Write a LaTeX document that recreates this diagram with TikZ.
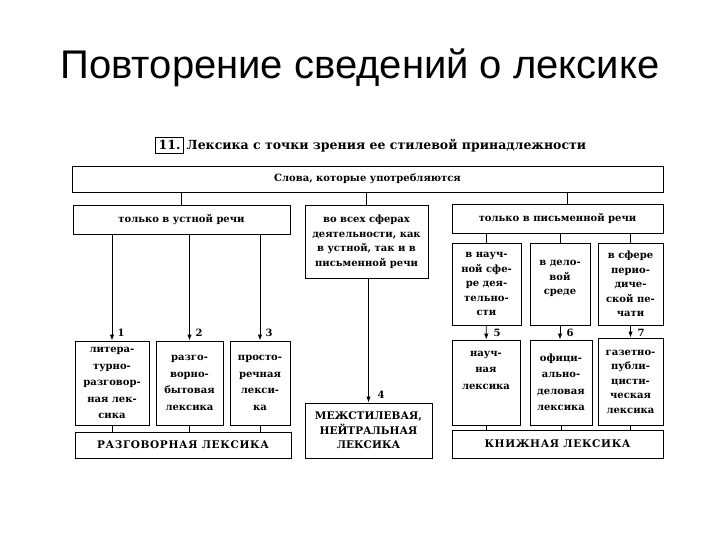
\documentclass[tikz,border=0pt]{standalone}
\usepackage{fontspec}
\setmainfont{DejaVu Serif}
\newfontfamily\titlefont{Liberation Sans}
\newfontfamily\capsfont[LetterSpace=6]{DejaVu Serif}
\usetikzlibrary{arrows.meta}

\begin{document}
\begin{tikzpicture}[x=1pt,y=-1pt]
	\tikzstyle{every node}+=[inner sep=0pt]
	\tikzstyle{box}=[draw=black, line width=0.9pt, align=center, font=\fontsize{10}{14.5}\selectfont\bfseries]
	\tikzstyle{tall}=[font=\fontsize{10}{16.5}\selectfont\bfseries]
	\tikzstyle{caps}=[font=\fontsize{10.5}{14.5}\selectfont\bfseries]
	\tikzstyle{wide}=[font=\capsfont\fontsize{10.5}{14.5}\selectfont\bfseries]
	\tikzstyle{link}=[black, line width=0.9pt]
	\tikzstyle{arr}=[link, -{Latex[length=6pt,width=4.5pt]}]
	\tikzstyle{num}=[font=\fontsize{10}{10}\selectfont\bfseries]
	\useasboundingbox (0,0) rectangle (720,540);
	% headings
	\node (title) at (360,68) {\titlefont\fontsize{40}{40}\selectfont Повторение сведений о лексике};
	\node [font=\fontsize{12.5}{14}\selectfont\bfseries, anchor=west] (sub) at (155,145) {\fbox{11.}\hspace{3pt}Лексика с точки зрения ее стилевой принадлежности};
	% first and second rows
	\node [box, minimum width=591, minimum height=26] (top) at (367.5,179) {Слова, которые употребляются};
	\node [box, minimum width=217, minimum height=29] (oral) at (181.5,219.5) {только в устной речи};
	\node [box, minimum width=123, minimum height=73] (all) at (366.5,241.5) {во всех сферах\\деятельности, как\\в устной, так и в\\письменной речи};
	\node [box, minimum width=211, minimum height=29] (written) at (557.5,218.5) {только в письменной речи};
	\node [box, minimum width=69, minimum height=82] (sci) at (486.5,284) {в науч-\\ной сфе-\\ре дея-\\тельно-\\сти};
	\node [box, minimum width=60, minimum height=82] (bus) at (560,284) {в дело-\\вой\\среде\\[-2pt]};
	\node [box, minimum width=65, minimum height=82] (press) at (630.5,284) {в сфере\\перио-\\диче-\\ской пе-\\чати};
	% kinds of words
	\node [box, tall, minimum width=74, minimum height=84] (lit) at (112,383) {литера-\\турно-\\разговор-\\ная лек-\\сика};
	\node [box, tall, minimum width=67, minimum height=84] (razg) at (189.5,383) {разго-\\ворно-\\бытовая\\лексика};
	\node [box, tall, minimum width=60, minimum height=84] (prost) at (260,383) {просто-\\речная\\лекси-\\ка};
	\node [box, tall, minimum width=68, minimum height=85] (nauch) at (486,382.5) {науч-\\ная\\лексика\\[8.5pt]};
	\node [box, tall, minimum width=62, minimum height=85] (ofic) at (561,382.5) {офици-\\ально-\\деловая\\лексика};
	\node [box, minimum width=65, minimum height=87] (gaz) at (630.5,381.5) {газетно-\\публи-\\цисти-\\ческая\\лексика};
	% groups
	\node [box, wide, minimum width=216, minimum height=26] (razgL) at (183,445) {РАЗГОВОРНАЯ ЛЕКСИКА};
	\node [box, caps, minimum width=127, minimum height=55] (neutral) at (368.5,430.5) {МЕЖСТИЛЕВАЯ,\\НЕЙТРАЛЬНАЯ\\ЛЕКСИКА};
	\node [box, wide, minimum width=211, minimum height=28] (knizh) at (557.5,444) {КНИЖНАЯ ЛЕКСИКА};
	% connectors
	\draw [link] (top.south -| oral) -- (oral);
	\draw [link] (top.south -| all) -- (all);
	\draw [link] ([xshift=10]written.north) -- ([xshift=10]written.north |- top.south);
	\draw [arr] (oral.south -| lit) -- (lit);
	\draw [arr] (oral.south -| razg) -- (razg);
	\draw [arr] (oral.south -| prost) -- (prost);
	\draw [arr] (all.south -| neutral) -- (neutral);
	\draw [link] (written.south -| sci) -- (sci);
	\draw [link] (written.south -| bus) -- (bus);
	\draw [link] (written.south -| press) -- (press);
	\draw [arr] (sci) -- (nauch);
	\draw [arr] (bus) -- (bus |- nauch.north);
	\draw [arr] (press) -- (gaz);
	\draw [link] (lit) -- (lit |- razgL.north);
	\draw [link] (razg) -- (razg |- razgL.north);
	\draw [link] (prost) -- (prost |- razgL.north);
	\draw [link] (nauch) -- (nauch |- knizh.north);
	\draw [link] (ofic) -- (ofic |- knizh.north);
	\draw [link] (gaz) -- (gaz |- knizh.north);
	% numbers
	\node [num] (n1) at (121,333) {1};
	\node [num] (n2) at (199,333) {2};
	\node [num] (n3) at (269,333) {3};
	\node [num] (n4) at (381,395) {4};
	\node [num] (n5) at (497,333) {5};
	\node [num] (n6) at (570,333) {6};
	\node [num] (n7) at (641,333) {7};
\end{tikzpicture}
\end{document}
